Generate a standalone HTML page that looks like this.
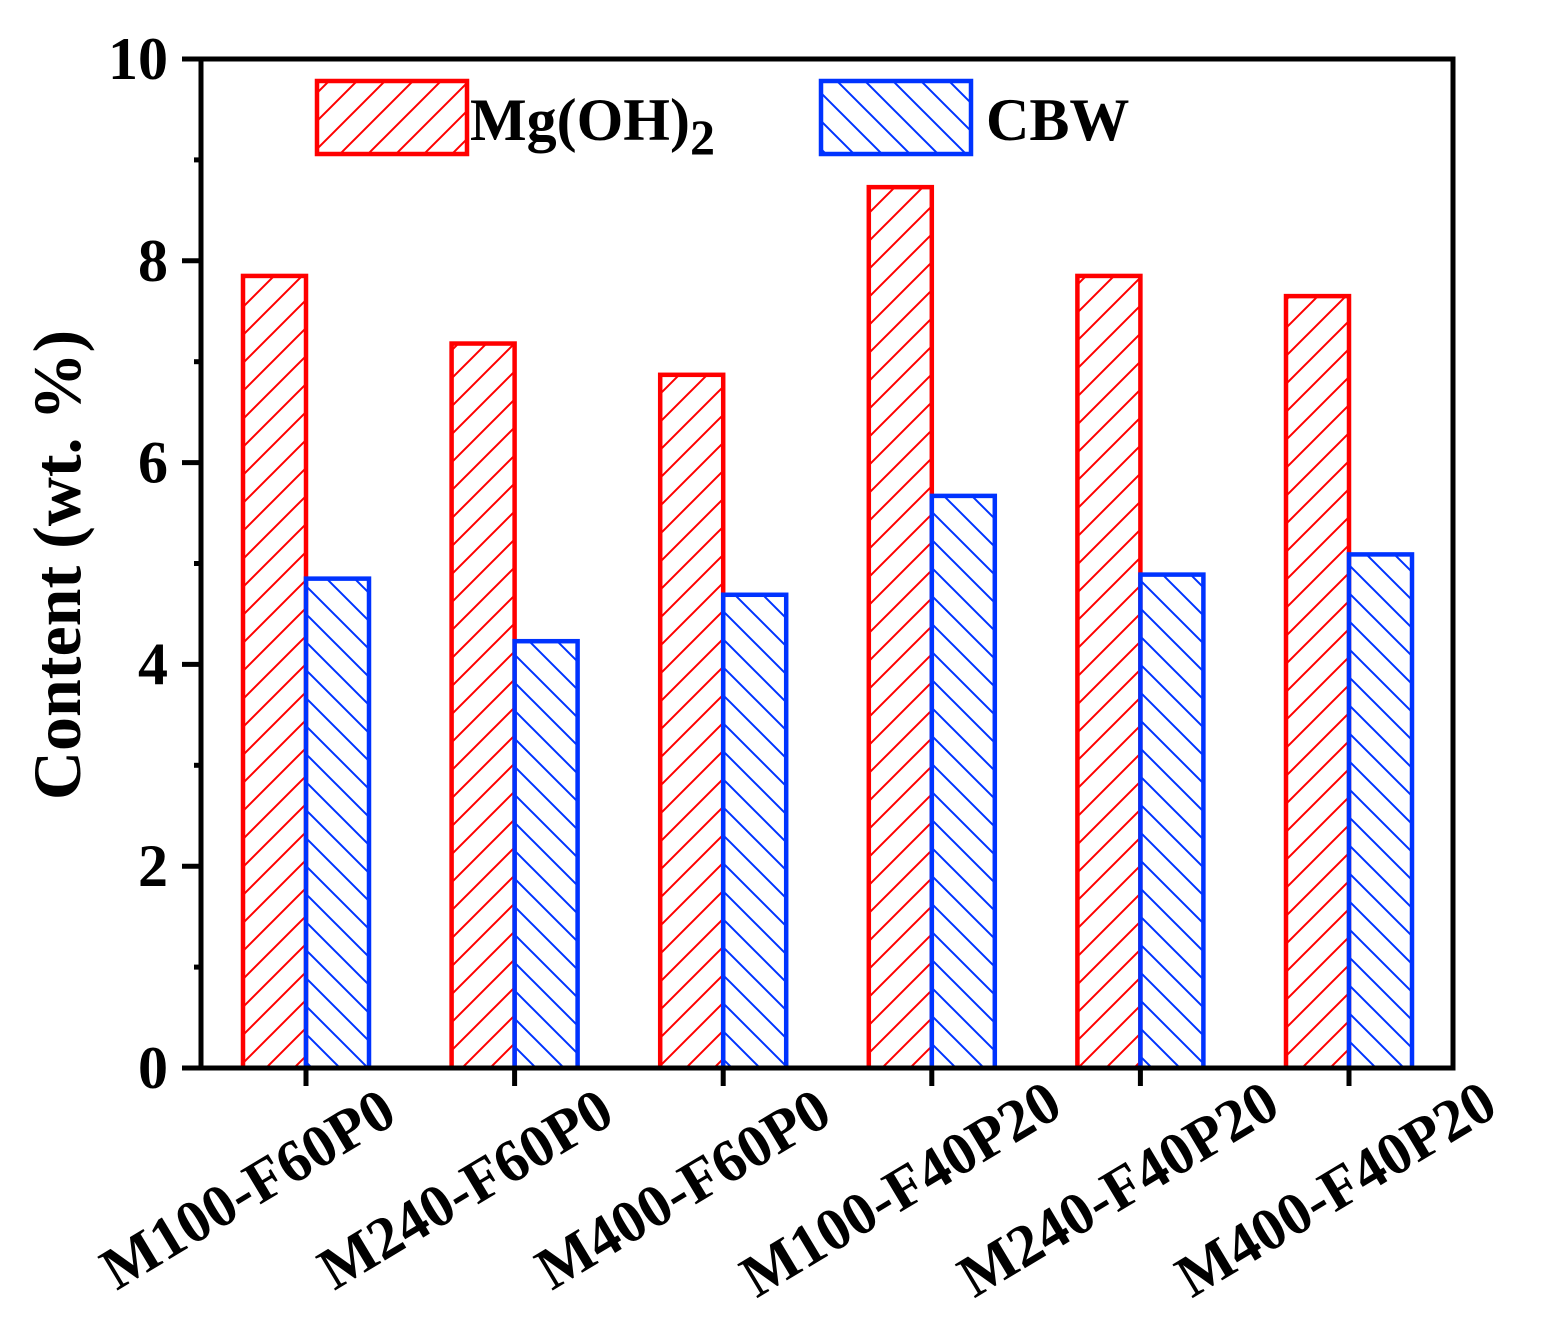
<!DOCTYPE html>
<html><head><meta charset="utf-8"><style>
html,body{margin:0;padding:0;background:#fff;}
svg{display:block;font-family:"Liberation Serif",serif;font-weight:bold;}
</style></head><body>
<svg id="chart" width="1543" height="1328" viewBox="0 0 1543 1328">
<defs>
<pattern id="hr" patternUnits="userSpaceOnUse" width="28" height="28" patternTransform="translate(242,0)">
<path d="M-7,7 L7,-7 M0,28 L28,0 M21,35 L35,21" stroke="#ff0000" stroke-width="2"/></pattern>
<pattern id="hb" patternUnits="userSpaceOnUse" width="28" height="28">
<path d="M-7,21 L7,35 M0,0 L28,28 M21,-7 L35,7" stroke="#0033ff" stroke-width="2"/></pattern>
</defs>
<g id="bars"></g>
<g id="axes"></g>
<g>
<rect x="317" y="81" width="150" height="73" fill="url(#hr)" stroke="#ff0000" stroke-width="4.5"/>
<text x="470" y="140" font-size="60">Mg(OH)<tspan font-size="50" dy="14">2</tspan></text>
<rect x="821" y="81" width="150" height="73" fill="url(#hb)" stroke="#0033ff" stroke-width="4.5"/>
<text x="986" y="140" font-size="60">CBW</text>
</g>
<text transform="translate(80,565) rotate(-90)" text-anchor="middle" font-size="68">Content (wt. %)</text>
</svg>
<script>
const categories=["M100-F60P0","M240-F60P0","M400-F60P0","M100-F40P20","M240-F40P20","M400-F40P20"];
const mgoh2=[7.85,7.18,6.87,8.73,7.85,7.65];
const cbw=[4.85,4.23,4.69,5.67,4.89,5.09];
const yTicks=[0,2,4,6,8,10];
const NS="http://www.w3.org/2000/svg";
const L=201,R=1453,T=59,B=1068,yMax=10;
const y=v=>B-(v/yMax)*(B-T);
const xc=i=>306+i*208.6;
const bw=63;
function mk(tag,attrs,parent){const e=document.createElementNS(NS,tag);for(const k in attrs)e.setAttribute(k,attrs[k]);parent.appendChild(e);return e;}
const bars=document.getElementById('bars'),axes=document.getElementById('axes');
categories.forEach((c,i)=>{
 const r=mk('rect',{x:xc(i)-bw,y:y(mgoh2[i]),width:bw,height:B-y(mgoh2[i]),fill:'url(#hr)',stroke:'#ff0000','stroke-width':4.5},bars);
 
 
 const b=mk('rect',{x:xc(i),y:y(cbw[i]),width:bw,height:B-y(cbw[i]),fill:'url(#hb)',stroke:'#0033ff','stroke-width':4.5},bars);
 
 
 mk('line',{x1:xc(i),x2:xc(i),y1:B,y2:B+18,stroke:'#000','stroke-width':5},axes);
 const t=mk('text',{transform:`translate(${xc(i)-48+i*9},${B+138}) rotate(-31)`,'text-anchor':'middle','font-size':60},axes);
 t.textContent=c;
 
 
});
const frame=mk('rect',{x:L,y:T,width:R-L,height:B-T,fill:'none',stroke:'#000','stroke-width':5},axes);


yTicks.forEach(v=>{
 mk('line',{x1:L-19,x2:L,y1:y(v),y2:y(v),stroke:'#000','stroke-width':5},axes);
 if(v<yMax) mk('line',{x1:L-7,x2:L,y1:y(v+1),y2:y(v+1),stroke:'#000','stroke-width':5},axes);
 const t=mk('text',{x:L-33,y:y(v)+20,'text-anchor':'end','font-size':60},axes);
 t.textContent=v;
 
 
});
</script>
</body></html>
